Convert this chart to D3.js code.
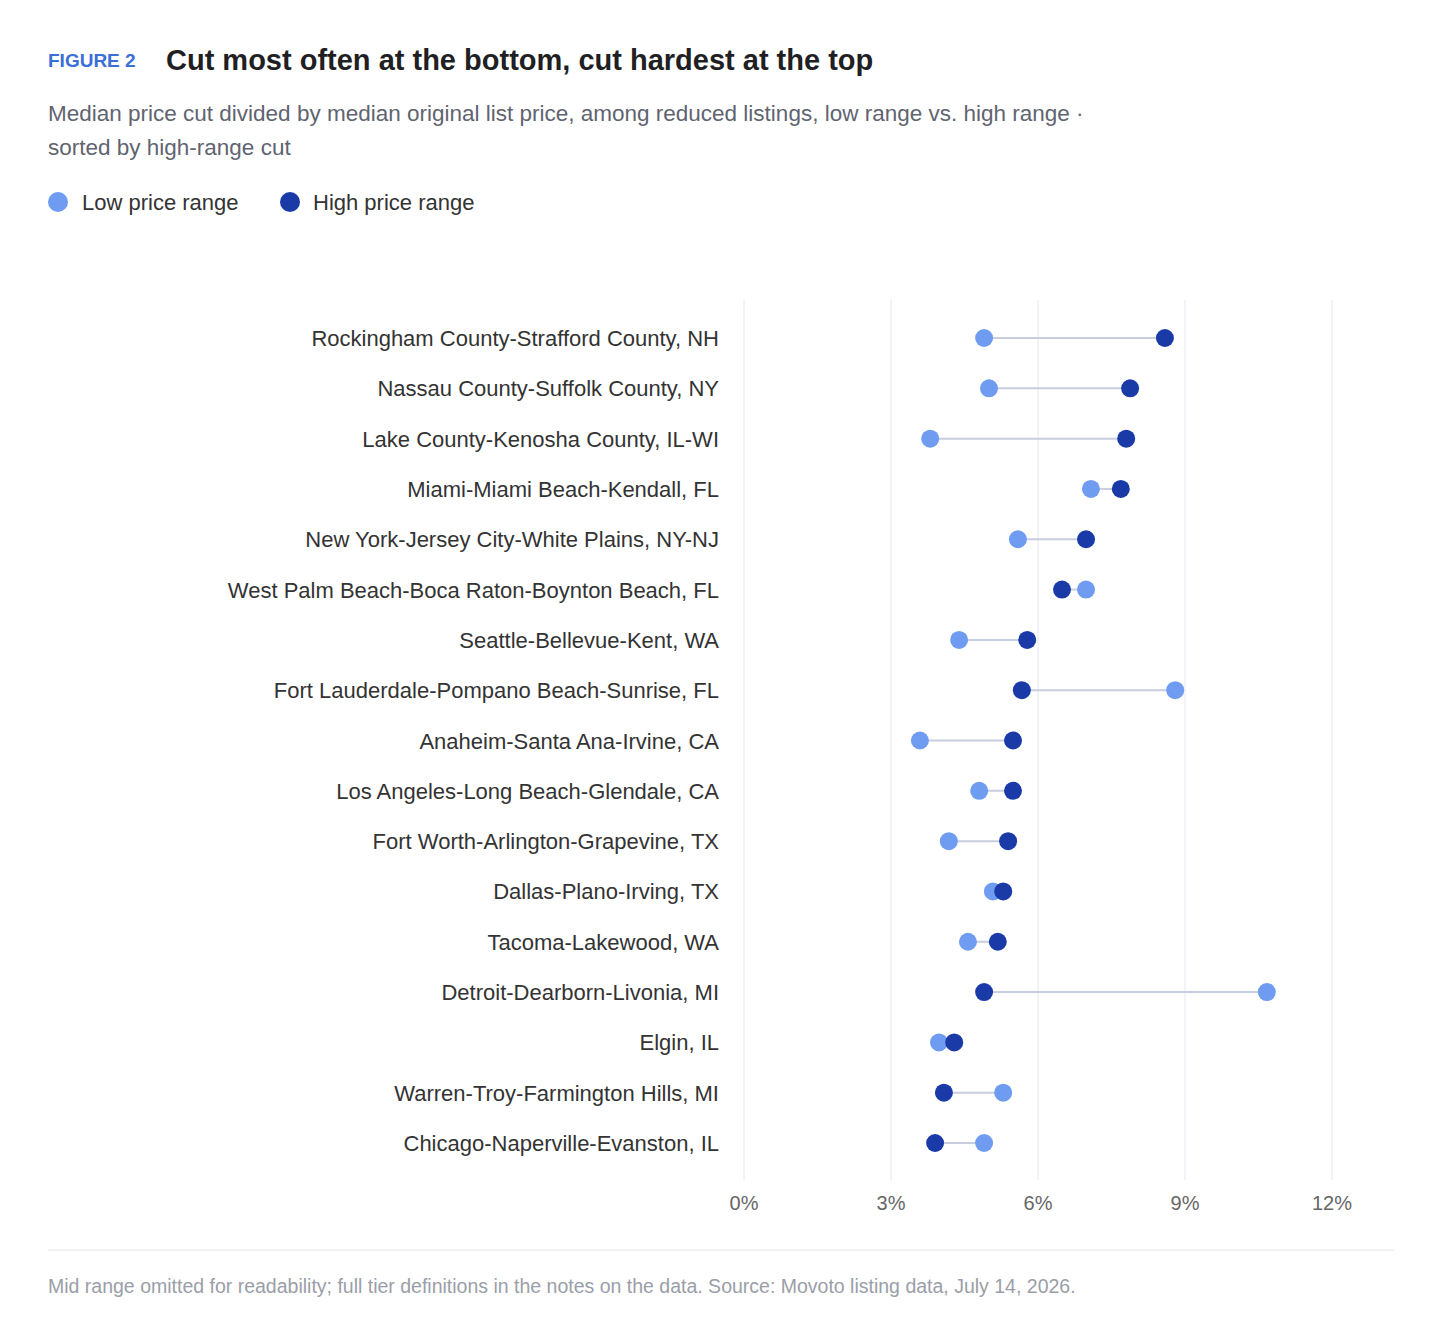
<!DOCTYPE html>
<html><head><meta charset="utf-8">
<script src="https://cdn.jsdelivr.net/npm/d3@7"></script>
<style>body{margin:0;background:#fff;font-family:"Liberation Sans",Arial,sans-serif}</style>
</head><body><div id="chart"></div>
<script>
var metros = ["Rockingham County-Strafford County, NH","Nassau County-Suffolk County, NY","Lake County-Kenosha County, IL-WI","Miami-Miami Beach-Kendall, FL","New York-Jersey City-White Plains, NY-NJ","West Palm Beach-Boca Raton-Boynton Beach, FL","Seattle-Bellevue-Kent, WA","Fort Lauderdale-Pompano Beach-Sunrise, FL","Anaheim-Santa Ana-Irvine, CA","Los Angeles-Long Beach-Glendale, CA","Fort Worth-Arlington-Grapevine, TX","Dallas-Plano-Irving, TX","Tacoma-Lakewood, WA","Detroit-Dearborn-Livonia, MI","Elgin, IL","Warren-Troy-Farmington Hills, MI","Chicago-Naperville-Evanston, IL"];
var lowCut  = [4.9,5.0,3.8,7.08,5.59,6.98,4.39,8.8,3.59,4.8,4.18,5.08,4.57,10.67,3.98,5.29,4.9];
var highCut = [8.59,7.88,7.8,7.69,6.98,6.49,5.78,5.67,5.49,5.49,5.39,5.29,5.18,4.9,4.29,4.08,3.9];
var ticks = [0,3,6,9,12];

var lowColor = "#6f9cf0", highColor = "#1a3aa8";
var svg = d3.select("#chart").append("svg").attr("width",1440).attr("height",1322);

svg.append("text").attr("x",48).attr("y",67).attr("fill","#3a6fd8").attr("font-size",19).attr("font-weight","bold").text("FIGURE 2");
svg.append("text").attr("x",166).attr("y",70).attr("fill","#1f1f24").attr("font-size",29).attr("font-weight","bold").text("Cut most often at the bottom, cut hardest at the top");
svg.append("text").attr("x",48).attr("y",121).attr("fill","#5f6470").attr("font-size",22.5).text("Median price cut divided by median original list price, among reduced listings, low range vs. high range ·");
svg.append("text").attr("x",48).attr("y",155).attr("fill","#5f6470").attr("font-size",22.5).text("sorted by high-range cut");

var leg = [["Low price range",lowColor,58,82],["High price range",highColor,290,313]];
leg.forEach(function(l){
  svg.append("circle").attr("cx",l[2]).attr("cy",202).attr("r",10).attr("fill",l[1]);
  svg.append("text").attr("x",l[3]).attr("y",210).attr("fill","#333").attr("font-size",22).text(l[0]);
});

var x = d3.scaleLinear().domain([0,12]).range([744,1332]);
var y = d3.scalePoint().domain(metros).range([338,1143]);

svg.selectAll(".grid").data(ticks).enter().append("line")
  .attr("x1",d=>x(d)).attr("x2",d=>x(d)).attr("y1",300).attr("y2",1180)
  .attr("stroke","#e6e8ee").attr("stroke-width",1);
svg.selectAll(".tick").data(ticks).enter().append("text")
  .attr("x",d=>x(d)).attr("y",1210).attr("text-anchor","middle").attr("fill","#666").attr("font-size",20).text(d=>d+"%");

svg.selectAll(".lab").data(metros).enter().append("text")
  .attr("x",719).attr("y",d=>y(d)+8).attr("text-anchor","end").attr("fill","#333").attr("font-size",22).text(d=>d);

var rows = metros.map((m,i)=>({m:m,lo:lowCut[i],hi:highCut[i]}));
svg.selectAll(".seg").data(rows).enter().append("line")
  .attr("x1",d=>x(d.lo)).attr("x2",d=>x(d.hi)).attr("y1",d=>y(d.m)).attr("y2",d=>y(d.m))
  .attr("stroke","#c9cde0").attr("stroke-width",2);
svg.selectAll(".lo").data(rows).enter().append("circle")
  .attr("cx",d=>x(d.lo)).attr("cy",d=>y(d.m)).attr("r",9).attr("fill",lowColor);
svg.selectAll(".hi").data(rows).enter().append("circle")
  .attr("cx",d=>x(d.hi)).attr("cy",d=>y(d.m)).attr("r",9).attr("fill",highColor);

svg.append("line").attr("x1",48).attr("x2",1394).attr("y1",1250).attr("y2",1250).attr("stroke","#e3e5ea");
svg.append("text").attr("x",48).attr("y",1293).attr("fill","#9a9ea8").attr("font-size",19.5)
  .text("Mid range omitted for readability; full tier definitions in the notes on the data. Source: Movoto listing data, July 14, 2026.");
</script></body></html>
